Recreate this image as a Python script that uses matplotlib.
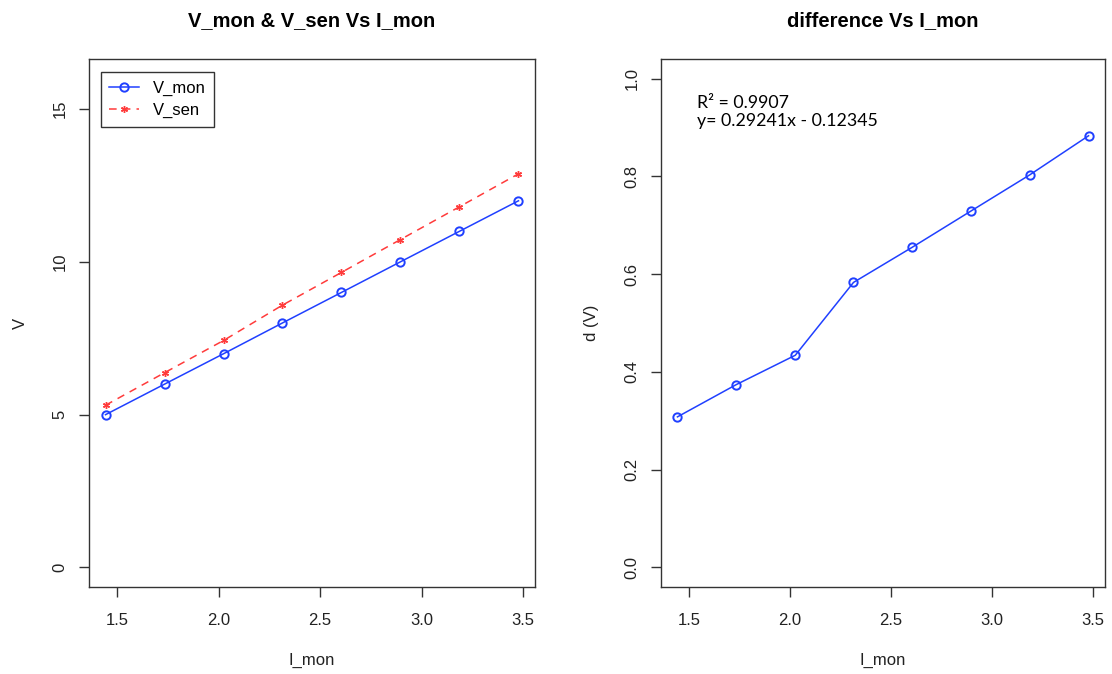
import matplotlib.pyplot as plt
import numpy as np

plt.rcParams['font.family'] = ['Liberation Sans', 'DejaVu Sans']

# measurements
I_mon = [1.443, 1.734, 2.026, 2.314, 2.605, 2.895, 3.186, 3.477]
V_mon = [5, 6, 7, 8, 9, 10, 11, 12]
diff = [0.308, 0.374, 0.434, 0.583, 0.655, 0.729, 0.803, 0.883]
V_sen = list(np.array(V_mon) + np.array(diff))

r2_text = "R\u00b2 = 0.9907"
fit_text = "y= 0.29241x - 0.12345"

BLUE = '#2040ff'
RED = '#ff3b3b'
FRAME = '#333333'
TXT = '#222222'


def r_range(lo, hi):
    pad = 0.04 * (hi - lo)
    return lo - pad, hi + pad


def style_axes(ax, xlim, ylim, yticks, ylabel, title):
    ax.set_xlim(*r_range(*xlim))
    ax.set_ylim(*r_range(*ylim))
    ax.set_xticks([1.5, 2.0, 2.5, 3.0, 3.5])
    ax.set_xticklabels(['1.5', '2.0', '2.5', '3.0', '3.5'])
    ax.set_yticks(yticks)
    for s in ax.spines.values():
        s.set_color(FRAME)
        s.set_linewidth(1.0)
    ax.tick_params(direction='out', length=7.5, width=1.0, color=FRAME,
                   labelsize=12, pad=8, labelcolor=TXT)
    ax.tick_params(axis='x', pad=11)
    ax.set_xlabel('I_mon', fontsize=12, labelpad=18, color=TXT)
    ax.set_ylabel(ylabel, fontsize=12, labelpad=18, color=TXT)
    ax.set_title(title, fontsize=14.5, fontweight='bold', pad=24)


fig = plt.figure(figsize=(11.12, 6.74), dpi=100)
ax1 = fig.add_axes([89 / 1112, 87 / 674, 446 / 1112, 528 / 674])
ax2 = fig.add_axes([661 / 1112, 87 / 674, 444 / 1112, 528 / 674])

# left: both voltages
ax1.plot(I_mon, V_mon, color=BLUE, lw=1.1, marker='o', ms=6,
         mfc='none', mec=BLUE, mew=1.4, label='V_mon')
ax1.plot(I_mon, V_sen, color=RED, lw=1.1, ls=(0, (5, 4)), marker=(6, 2, 0),
         ms=5, mec=RED, mew=1.0, label='V_sen')
style_axes(ax1, (min(I_mon), max(I_mon)), (0, 16), [0, 5, 10, 15], 'V',
           'V_mon & V_sen Vs I_mon')
ax1.set_yticklabels(['0', '5', '10', '15'], rotation=90, va='center')
leg = ax1.legend(loc='upper left', bbox_to_anchor=(0.026, 0.975),
                 borderaxespad=0, fancybox=False, framealpha=1,
                 edgecolor=FRAME, fontsize=12, handlelength=1.8,
                 handletextpad=0.85, borderpad=0.5, labelspacing=0.45)
leg.get_frame().set_linewidth(1.0)

# right: difference
ax2.plot(I_mon, diff, color=BLUE, lw=1.1, marker='o', ms=6,
         mfc='none', mec=BLUE, mew=1.4)
style_axes(ax2, (min(I_mon), max(I_mon)), (0, 1),
           [0.0, 0.2, 0.4, 0.6, 0.8, 1.0], 'd (V)', 'difference Vs I_mon')
ax2.set_yticklabels(['0.0', '0.2', '0.4', '0.6', '0.8', '1.0'],
                    rotation=90, va='center')
ax2.text(697 / 1112, 1 - 102.7 / 674, r2_text, transform=fig.transFigure,
         family=['Lato', 'DejaVu Sans'], fontsize=12.8, va='center')
ax2.text(697 / 1112, 1 - 121 / 674, fit_text, transform=fig.transFigure,
         family=['Lato', 'DejaVu Sans'], fontsize=12.8, va='center')

fig.savefig('out.png', dpi=100)
